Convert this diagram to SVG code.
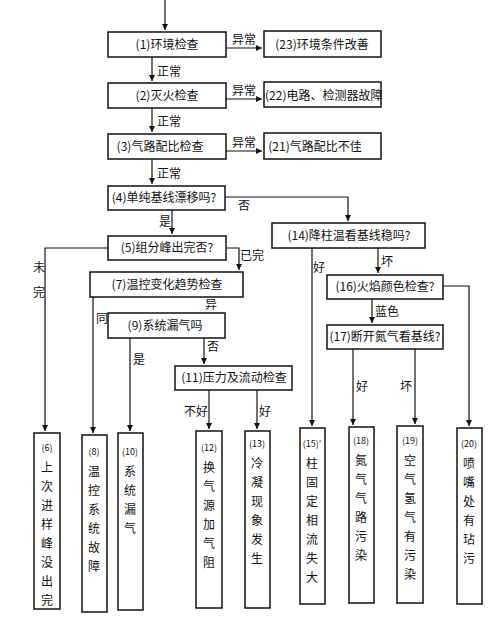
<svg xmlns="http://www.w3.org/2000/svg" width="499" height="617" viewBox="0 0 499 617">
<style>
rect{fill:#fff;stroke:#111;stroke-width:1.5}
text{font-family:"Noto Sans CJK SC","Liberation Sans",sans-serif;font-size:12px;fill:#111}
.c{text-anchor:middle}
.v{text-anchor:middle;font-size:12px}
.n{text-anchor:middle;font-size:9px}
#conn line,#conn polyline{stroke:#111;stroke-width:1.2;fill:none}
</style>
<defs><marker id="a" markerWidth="8" markerHeight="8" refX="6" refY="3" orient="auto" markerUnits="userSpaceOnUse"><path d="M0,0 L6,3 L0,6 z" fill="#111"/></marker></defs>
<g id="conn">
<line x1="165" y1="0" x2="165" y2="30" marker-end="url(#a)"/>
<line x1="226" y1="48" x2="262" y2="48" marker-end="url(#a)"/>
<line x1="226" y1="99" x2="262" y2="99" marker-end="url(#a)"/>
<line x1="226" y1="151" x2="262" y2="151" marker-end="url(#a)"/>
<line x1="152" y1="57" x2="152" y2="81" marker-end="url(#a)"/>
<line x1="152" y1="108" x2="152" y2="132" marker-end="url(#a)"/>
<line x1="152" y1="159" x2="152" y2="184" marker-end="url(#a)"/>
<polyline points="225,197 348,197 348,221" marker-end="url(#a)"/>
<line x1="172" y1="210" x2="172" y2="234" marker-end="url(#a)"/>
<polyline points="108,248 45,248 45,431" marker-end="url(#a)"/>
<polyline points="227,248 239,248 239,270" marker-end="url(#a)"/>
<line x1="93" y1="297" x2="93" y2="433" marker-end="url(#a)"/>
<line x1="130" y1="338" x2="130" y2="431" marker-end="url(#a)"/>
<line x1="204" y1="338" x2="204" y2="364" marker-end="url(#a)"/>
<line x1="209" y1="390" x2="209" y2="429" marker-end="url(#a)"/>
<line x1="257" y1="390" x2="257" y2="429" marker-end="url(#a)"/>
<line x1="312" y1="248" x2="312" y2="426" marker-end="url(#a)"/>
<line x1="378" y1="248" x2="378" y2="273" marker-end="url(#a)"/>
<polyline points="443,286 469,286 469,426" marker-end="url(#a)"/>
<line x1="372" y1="299" x2="372" y2="323" marker-end="url(#a)"/>
<line x1="353" y1="349" x2="353" y2="425" marker-end="url(#a)"/>
<line x1="415" y1="349" x2="415" y2="424" marker-end="url(#a)"/>
</g>
<g id="labels">
<text x="232" y="44">异常</text><text x="232" y="95">异常</text><text x="232" y="147">异常</text>
<text x="157" y="76">正常</text><text x="157" y="126">正常</text><text x="157" y="178">正常</text>
<text x="238" y="210">否</text><text x="159" y="226">是</text>
<text x="33" y="272">未</text><text x="33" y="297">完</text>
<text x="240" y="260">已完</text><text x="96" y="323">同</text><text x="205" y="309">异</text>
<text x="133" y="364">是</text><text x="207" y="351">否</text>
<text x="184" y="416">不好</text><text x="259" y="416">好</text>
<text x="313" y="272">好</text><text x="381" y="266">坏</text><text x="375" y="316">蓝色</text>
<text x="356" y="391">好</text><text x="400" y="391">坏</text>
</g>
<g id="n1"><rect x="108" y="32" width="118" height="25"/><text class="c" x="167" y="49">(1)环境检查</text></g>
<g id="n23"><rect x="264" y="31" width="117" height="26"/><text class="c" x="322" y="49">(23)环境条件改善</text></g>
<g id="n2"><rect x="108" y="83" width="118" height="25"/><text class="c" x="167" y="100">(2)灭火检查</text></g>
<g id="n22"><rect x="264" y="82" width="117" height="25"/><text x="265" y="100">(22)电路、检测器故障</text></g>
<g id="n3"><rect x="108" y="134" width="118" height="25"/><text class="c" x="160" y="151">(3)气路配比检查</text></g>
<g id="n21"><rect x="264" y="133" width="117" height="26"/><text class="c" x="315" y="151">(21)气路配比不佳</text></g>
<g id="n4"><rect x="108" y="186" width="117" height="24"/><text class="c" x="164" y="202">(4)单纯基线漂移吗?</text></g>
<g id="n5"><rect x="108" y="236" width="118" height="24"/><text class="c" x="167" y="252">(5)组分峰出完否?</text></g>
<g id="n7"><rect x="90" y="272" width="153" height="25"/><text class="c" x="167" y="289">(7)温控变化趋势检查</text></g>
<g id="n9"><rect x="108" y="313" width="117" height="25"/><text class="c" x="165" y="330">(9)系统漏气吗</text></g>
<g id="n11"><rect x="175" y="366" width="117" height="24"/><text class="c" x="234" y="382">(11)压力及流动检查</text></g>
<g id="n14"><rect x="272" y="223" width="153" height="25"/><text class="c" x="349" y="240">(14)降柱温看基线稳吗?</text></g>
<g id="n16"><rect x="327" y="275" width="116" height="24"/><text class="c" x="385" y="291">(16)火焰颜色检查?</text></g>
<g id="n17"><rect x="327" y="325" width="116" height="24"/><text class="c" x="385" y="341">(17)断开氮气看基线?</text></g>
<g id="n6"><rect x="34" y="433" width="26" height="176"/><text class="n" x="47" y="451">(6)</text><text class="v"><tspan x="47" y="472">上</tspan><tspan x="47" y="491">次</tspan><tspan x="47" y="510">进</tspan><tspan x="47" y="529">样</tspan><tspan x="47" y="548">峰</tspan><tspan x="47" y="567">没</tspan><tspan x="47" y="586">出</tspan><tspan x="47" y="605">完</tspan></text></g>
<g id="n8"><rect x="82" y="435" width="25" height="177"/><text class="n" x="94" y="455">(8)</text><text class="v"><tspan x="94" y="476">温</tspan><tspan x="94" y="495">控</tspan><tspan x="94" y="514">系</tspan><tspan x="94" y="533">统</tspan><tspan x="94" y="552">故</tspan><tspan x="94" y="571">障</tspan></text></g>
<g id="n10"><rect x="118" y="433" width="25" height="177"/><text class="n" x="130" y="455">(10)</text><text class="v"><tspan x="130" y="476">系</tspan><tspan x="130" y="495">统</tspan><tspan x="130" y="514">漏</tspan><tspan x="130" y="533">气</tspan></text></g>
<g id="n12"><rect x="196" y="431" width="26" height="177"/><text class="n" x="209" y="451">(12)</text><text class="v"><tspan x="209" y="472">换</tspan><tspan x="209" y="491">气</tspan><tspan x="209" y="510">源</tspan><tspan x="209" y="529">加</tspan><tspan x="209" y="548">气</tspan><tspan x="209" y="567">阻</tspan></text></g>
<g id="n13"><rect x="245" y="431" width="25" height="177"/><text class="n" x="257" y="447">(13)</text><text class="v"><tspan x="257" y="468">冷</tspan><tspan x="257" y="487">凝</tspan><tspan x="257" y="506">现</tspan><tspan x="257" y="525">象</tspan><tspan x="257" y="544">发</tspan><tspan x="257" y="563">生</tspan></text></g>
<g id="n15"><rect x="300" y="428" width="25" height="176"/><text class="n" x="312" y="447">(15)'</text><text class="v"><tspan x="312" y="468">柱</tspan><tspan x="312" y="487">固</tspan><tspan x="312" y="506">定</tspan><tspan x="312" y="525">相</tspan><tspan x="312" y="544">流</tspan><tspan x="312" y="563">失</tspan><tspan x="312" y="582">大</tspan></text></g>
<g id="n18"><rect x="349" y="427" width="25" height="176"/><text class="n" x="361" y="444">(18)</text><text class="v"><tspan x="361" y="465">氮</tspan><tspan x="361" y="484">气</tspan><tspan x="361" y="503">气</tspan><tspan x="361" y="522">路</tspan><tspan x="361" y="541">污</tspan><tspan x="361" y="560">染</tspan></text></g>
<g id="n19"><rect x="397" y="426" width="26" height="177"/><text class="n" x="410" y="444">(19)</text><text class="v"><tspan x="410" y="465">空</tspan><tspan x="410" y="484">气</tspan><tspan x="410" y="503">氢</tspan><tspan x="410" y="522">气</tspan><tspan x="410" y="541">有</tspan><tspan x="410" y="560">污</tspan><tspan x="410" y="579">染</tspan></text></g>
<g id="n20"><rect x="457" y="428" width="25" height="176"/><text class="n" x="469" y="447">(20)</text><text class="v"><tspan x="469" y="468">喷</tspan><tspan x="469" y="487">嘴</tspan><tspan x="469" y="506">处</tspan><tspan x="469" y="525">有</tspan><tspan x="469" y="544">玷</tspan><tspan x="469" y="563">污</tspan></text></g>
</svg>
